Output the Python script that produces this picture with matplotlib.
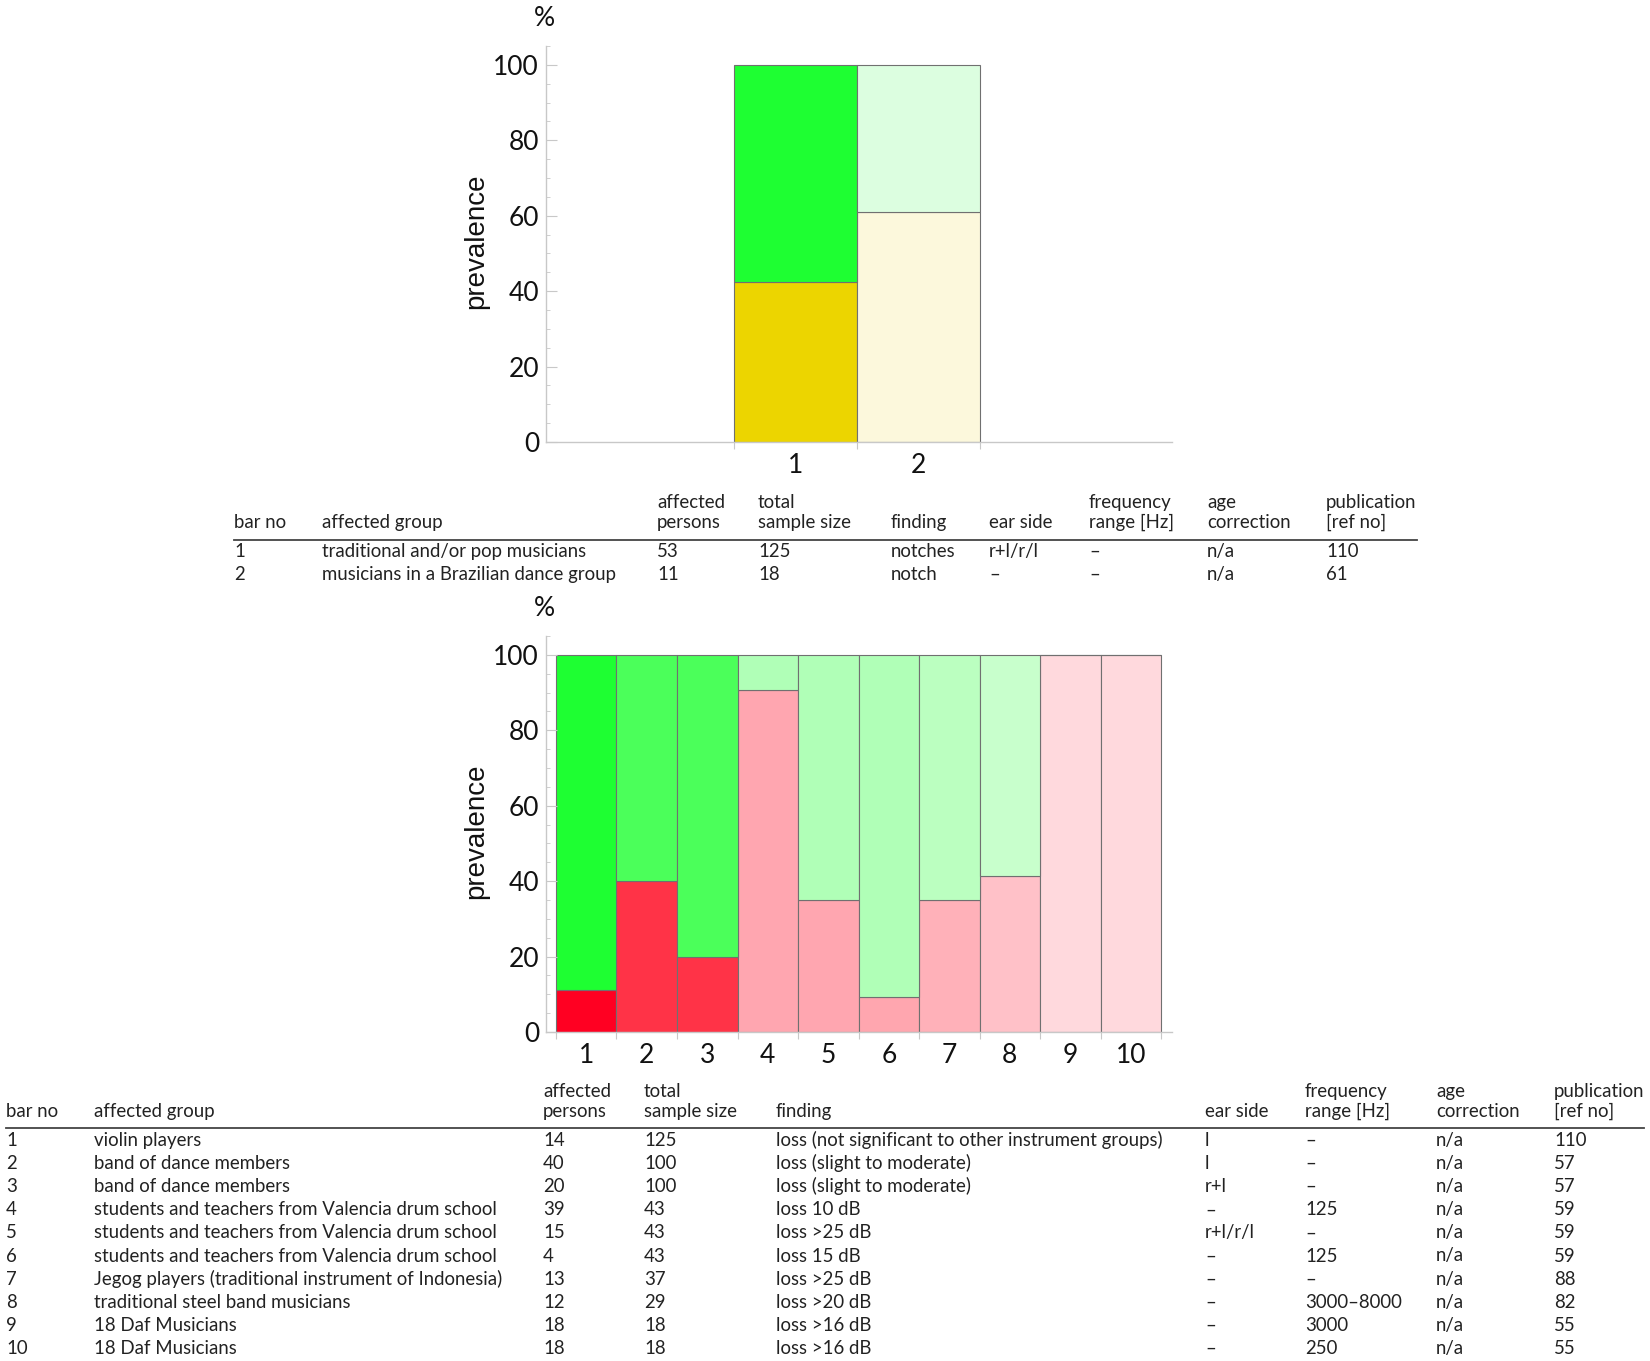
import matplotlib
matplotlib.use('Agg')
import matplotlib.pyplot as plt
from matplotlib.lines import Line2D
from matplotlib.ticker import MultipleLocator

# ---------------- data ----------------
top_bar_labels = ['1', '2']
top_affected_pct = [42.4, 61.1]
top_colors_affected = ['#ECD500', '#FCF8DC']
top_colors_rest = ['#1EFF32', '#DCFEE0']

bot_bar_labels = ['1', '2', '3', '4', '5', '6', '7', '8', '9', '10']
bot_affected_pct = [11.2, 40.0, 20.0, 90.7, 34.9, 9.3, 35.1, 41.4, 100.0, 100.0]
bot_colors_affected = ['#FF0022', '#FF3347', '#FF3347', '#FFA6B0', '#FFA6B0',
                       '#FFA6AF', '#FFB1B9', '#FFC1C8', '#FFD9DD', '#FFD9DD']
bot_colors_rest = ['#1EFF32', '#4BFF5A', '#4BFF5A', '#B0FFB7', '#B0FFB7',
                   '#B0FFB7', '#BBFFC0', '#C8FFCC', '#C8FFCC', '#C8FFCC']

y_ticks = [0, 20, 40, 60, 80, 100]

hdr_line1 = ['', '', 'affected', 'total', '', '', 'frequency', 'age', 'publication']
hdr_line2 = ['bar no', 'affected group', 'persons', 'sample size', 'finding',
             'ear side', 'range [Hz]', 'correction', '[ref no]']

top_bar_no = ['1', '2']
top_group = ['traditional and/or pop musicians', 'musicians in a Brazilian dance group']
top_persons = ['53', '11']
top_sample = ['125', '18']
top_finding = ['notches', 'notch']
top_ear = ['r+l/r/l', '–']
top_freq = ['–', '–']
top_age = ['n/a', 'n/a']
top_pub = ['110', '61']

bot_bar_no = ['1', '2', '3', '4', '5', '6', '7', '8', '9', '10']
bot_group = ['violin players', 'band of dance members', 'band of dance members',
             'students and teachers from Valencia drum school',
             'students and teachers from Valencia drum school',
             'students and teachers from Valencia drum school',
             'Jegog players (traditional instrument of Indonesia)',
             'traditional steel band musicians', '18 Daf Musicians', '18 Daf Musicians']
bot_persons = ['14', '40', '20', '39', '15', '4', '13', '12', '18', '18']
bot_sample = ['125', '100', '100', '43', '43', '43', '37', '29', '18', '18']
bot_finding = ['loss (not significant to other instrument groups)',
               'loss (slight to moderate)', 'loss (slight to moderate)',
               'loss 10 dB', 'loss >25 dB', 'loss 15 dB', 'loss >25 dB',
               'loss >20 dB', 'loss >16 dB', 'loss >16 dB']
bot_ear = ['l', 'l', 'r+l', '–', 'r+l/r/l', '–', '–', '–', '–', '–']
bot_freq = ['–', '–', '–', '125', '–', '125', '–', '3000–8000', '3000', '250']
bot_age = ['n/a'] * 10
bot_pub = ['110', '57', '57', '59', '59', '59', '88', '82', '55', '55']

# ---------------- figure ----------------
W, H = 1650, 1361
fig = plt.figure(figsize=(W / 100, H / 100), dpi=100)
fig.patch.set_facecolor('white')

TICK_FONT = 'Lato'
TABLE_FONT = 'Lato'
TABLE_SIZE = 13.4
LABEL_FONT = 'Liberation Sans'
AXIS_GRAY = '#c8c8c8'
EDGE = '#707070'


def fx(x):
    return x / W


def fy(y):
    return 1 - y / H


def make_axes(bottom_px, xlim):
    ax = fig.add_axes([fx(546), fy(bottom_px), 626 / W, 396 / H])
    ax.set_xlim(*xlim)
    ax.set_ylim(0, 105)
    for s in ['top', 'right']:
        ax.spines[s].set_visible(False)
    for s in ['left', 'bottom']:
        ax.spines[s].set_color(AXIS_GRAY)
        ax.spines[s].set_linewidth(1.0)
    ax.set_yticks(y_ticks)
    ax.yaxis.set_minor_locator(MultipleLocator(5))
    ax.tick_params(axis='y', which='major', direction='in', length=8, width=0.8,
                   color=AXIS_GRAY, labelsize=19, pad=5, labelcolor='#111111')
    ax.tick_params(axis='y', which='minor', direction='in', length=3, width=0.6,
                   color=AXIS_GRAY)
    for lab in ax.get_yticklabels():
        lab.set_fontfamily(TICK_FONT)
    ax.set_facecolor('white')
    return ax


def draw_bars(ax, labels, affected, c_aff, c_rest):
    pos = list(range(1, len(labels) + 1))
    rest = [100 - a for a in affected]
    ax.bar(pos, affected, width=1.0, color=c_aff, edgecolor=EDGE, linewidth=0.8)
    ax.bar(pos, rest, width=1.0, bottom=affected, color=c_rest, edgecolor=EDGE,
           linewidth=0.8)
    edges = [p - 0.5 for p in pos] + [pos[-1] + 0.5]
    ax.set_xticks(edges)
    ax.set_xticklabels([''] * len(edges))
    ax.tick_params(axis='x', which='major', direction='out', length=5, width=0.8,
                   color=AXIS_GRAY)
    ax.set_xticks(pos, minor=True)
    ax.set_xticklabels(labels, minor=True, fontfamily=TICK_FONT)
    ax.tick_params(axis='x', which='minor', length=0, labelsize=19, pad=8,
                   labelcolor='#111111')


def side_labels(ax_bottom_px):
    top_px = ax_bottom_px - 396
    fig.text(fx(476), fy((top_px + ax_bottom_px) / 2 - 3), 'prevalence', rotation=90,
             ha='center', va='center', fontsize=20, fontfamily=LABEL_FONT,
             color='#111111')
    fig.text(fx(544), fy(top_px - 28), '%', ha='center', va='center',
             fontsize=19, fontfamily=TICK_FONT, color='#111111')


# top chart
ax1 = make_axes(442, (-1.03, 4.06))
draw_bars(ax1, top_bar_labels, top_affected_pct, top_colors_affected, top_colors_rest)
side_labels(442)

# bottom chart
ax2 = make_axes(1032, (0.335, 10.68))
draw_bars(ax2, bot_bar_labels, bot_affected_pct, bot_colors_affected, bot_colors_rest)
side_labels(1032)


# ---------------- tables ----------------
def tx(x, y, s):
    fig.text(fx(x), fy(y), s, ha='left', va='baseline', fontsize=TABLE_SIZE,
             fontfamily=TABLE_FONT, color='#222222')


def draw_table(col_x, hdr_y1, hdr_y2, rule_y, rule_x0, rule_x1, row_y0, row_dy, columns):
    off = 6  # baseline offset from visual centre
    for x, h1, h2 in zip(col_x, hdr_line1, hdr_line2):
        if h1:
            tx(x, hdr_y1 + off, h1)
        tx(x, hdr_y2 + off, h2)
    fig.add_artist(Line2D([fx(rule_x0), fx(rule_x1)], [fy(rule_y), fy(rule_y)],
                          color='#444444', linewidth=1.3))
    n = len(columns[0])
    for i in range(n):
        y = row_y0 + i * row_dy + off
        for x, col in zip(col_x, columns):
            tx(x, y, col[i])


draw_table([234, 322, 657, 758, 891, 989, 1089, 1207, 1326], 502, 522, 540, 234, 1417,
           551, 23,
           [top_bar_no, top_group, top_persons, top_sample, top_finding, top_ear,
            top_freq, top_age, top_pub])

draw_table([6, 94, 543, 644, 776, 1205, 1305, 1436, 1554], 1091, 1111, 1128, 6, 1644,
           1140, 23.1,
           [bot_bar_no, bot_group, bot_persons, bot_sample, bot_finding, bot_ear,
            bot_freq, bot_age, bot_pub])

fig.savefig('out.png', dpi=100, facecolor='white')
